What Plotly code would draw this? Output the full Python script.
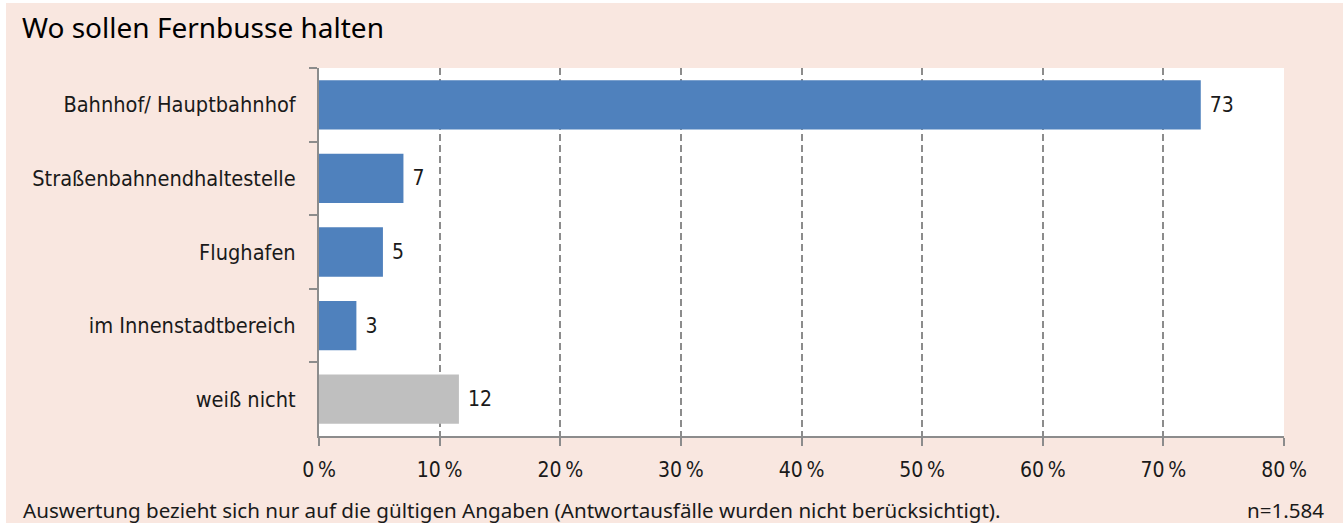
import plotly.graph_objects as go

# Survey answers: where long-distance buses should stop (share in %)
categories = [
    "Bahnhof/ Hauptbahnhof",
    "Straßenbahnendhaltestelle",
    "Flughafen",
    "im Innenstadtbereich",
    "weiß nicht",
]
shares = [73.1, 7.0, 5.3, 3.1, 11.6]
bar_colors = ["#4F81BD", "#4F81BD", "#4F81BD", "#4F81BD", "#BFBFBF"]
x_ticks = [0, 10, 20, 30, 40, 50, 60, 70, 80]
x_tick_labels = [f"{v}\u2009%" for v in x_ticks]

title_text = "Wo sollen Fernbusse halten"
footnote_text = ("Auswertung bezieht sich nur auf die gültigen Angaben "
                 "(Antwortausfälle wurden nicht berücksichtigt).")
sample_text = "n=1.584"

W, H = 1343, 523
ML, MR, MT, MB = 319, 59, 68, 87
PW, PH = W - ML - MR, H - MT - MB

BG = "#F9E7E0"
AXIS = "#8C8C8C"
LABEL_FONT = "DejaVu Sans Condensed, Liberation Sans Narrow, sans-serif"
TEXT_FONT = "Noto Sans, Open Sans, sans-serif"

fig = go.Figure(
    go.Bar(
        x=shares,
        y=categories,
        orientation="h",
        marker=dict(color=bar_colors, line=dict(width=0)),
        texttemplate=" %{x:.0f}",
        textposition="outside",
        textfont=dict(family=LABEL_FONT, size=21, color="#1a1a1a"),
        cliponaxis=False,
        hoverinfo="skip",
    )
)


def px_to_paper_x(px):
    return (px - ML) / PW


def px_to_paper_y(py):
    return (H - MB - py) / PH


fig.update_layout(
    width=W,
    height=H,
    margin=dict(l=ML, r=MR, t=MT, b=MB, pad=0),
    paper_bgcolor=BG,
    plot_bgcolor="white",
    bargap=0.33,
    showlegend=False,
    xaxis=dict(
        range=[0, 80],
        tickvals=x_ticks,
        ticktext=x_tick_labels,
        showgrid=True,
        gridcolor=AXIS,
        gridwidth=2,
        griddash="7px,4px",
        zeroline=False,
        showline=True,
        linecolor=AXIS,
        linewidth=2,
        ticks="outside",
        ticklen=8,
        tickwidth=2,
        tickcolor=AXIS,
        tickfont=dict(family=LABEL_FONT, size=21, color="#1a1a1a"),
        ticklabelstandoff=6,
        fixedrange=True,
    ),
    yaxis=dict(
        categoryorder="array",
        categoryarray=categories,
        autorange="reversed",
        showgrid=False,
        zeroline=False,
        showline=True,
        linecolor=AXIS,
        linewidth=2,
        ticks="outside",
        tickson="boundaries",
        ticklen=8,
        tickwidth=2,
        tickcolor=AXIS,
        tickfont=dict(family=LABEL_FONT, size=21.6, color="#1a1a1a"),
        ticklabelstandoff=17,
        fixedrange=True,
    ),
    shapes=[
        # thin white strips at the page's top and left edge
        dict(type="rect", xref="paper", yref="paper", layer="above",
             x0=px_to_paper_x(0), x1=px_to_paper_x(W),
             y0=px_to_paper_y(3), y1=px_to_paper_y(0),
             fillcolor="white", line=dict(width=0)),
        dict(type="rect", xref="paper", yref="paper", layer="above",
             x0=px_to_paper_x(0), x1=px_to_paper_x(6),
             y0=px_to_paper_y(H), y1=px_to_paper_y(0),
             fillcolor="white", line=dict(width=0)),
    ],
    annotations=[
        dict(text=title_text, xref="paper", yref="paper",
             x=px_to_paper_x(20), y=px_to_paper_y(27),
             xanchor="left", yanchor="middle", showarrow=False,
             font=dict(family=TEXT_FONT, size=28, color="#000000")),
        dict(text=footnote_text, xref="paper", yref="paper",
             x=px_to_paper_x(21), y=px_to_paper_y(510),
             xanchor="left", yanchor="middle", showarrow=False,
             font=dict(family=TEXT_FONT, size=20.6, color="#1a1a1a")),
        dict(text=sample_text, xref="paper", yref="paper",
             x=px_to_paper_x(1326), y=px_to_paper_y(510),
             xanchor="right", yanchor="middle", showarrow=False,
             font=dict(family=TEXT_FONT, size=20.6, color="#1a1a1a")),
    ],
)

fig.write_html("out.html")
